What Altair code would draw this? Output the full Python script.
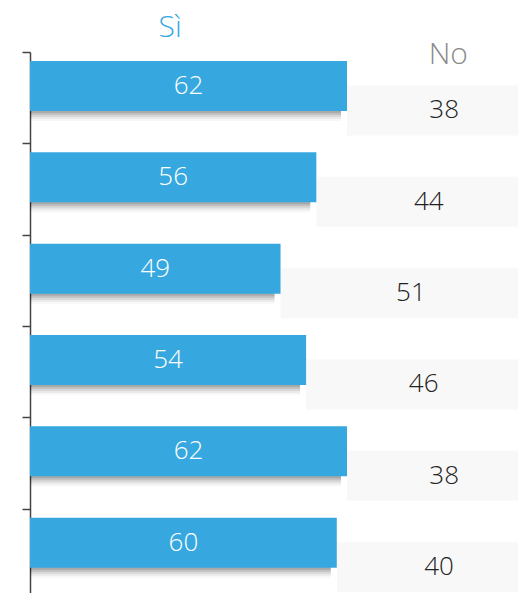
import altair as alt
import pandas as pd

rows = ["1", "2", "3", "4", "5", "6"]
si = [62, 56, 49, 54, 62, 60]
no = [38, 44, 51, 46, 38, 40]
headers = ["Sì", "No"]
header_x = [27.4, 81.8]

df = pd.DataFrame({"row": rows, "si": si, "no": no})
df["zero"] = 0
df["total"] = df["si"] + df["no"]
df["si_mid"] = df["si"] / 2
df["no_mid"] = df["si"] + df["no"] / 2

BLUE = "#37A8DF"
FONT = "Open Sans"

xscale = alt.Scale(domain=[0, 95.44], nice=False, zero=True)
yenc = alt.Y(
    "row:N", sort=rows, title=None,
    scale=alt.Scale(paddingInner=0, paddingOuter=0, range=[0, 548]),
    axis=alt.Axis(labels=False, tickBand="extent", tickSize=8, domainColor="#444",
                  tickColor="#444", domainWidth=1.5, tickWidth=1.5, grid=False),
)

base = alt.Chart(df)

shadows = [
    base.mark_bar(height=50, yOffset=-11.7 + off, x2Offset=-6, color="#000", opacity=op).encode(
        x=alt.X("zero:Q", scale=xscale, axis=None), x2="si:Q", y=yenc
    )
    for off, op in [(2, 0.12), (4, 0.10), (6, 0.08), (8, 0.05), (10, 0.03)]
]

no_bar = base.mark_bar(height=50, yOffset=12.8, color="#F8F8F8", clip=True).encode(
    x=alt.X("si:Q", scale=xscale, axis=None), x2="total:Q", y=yenc
)
si_bar = base.mark_bar(height=50, yOffset=-11.7, color=BLUE).encode(
    x=alt.X("zero:Q", scale=xscale, axis=None), x2="si:Q", y=yenc
)
si_text = base.mark_text(yOffset=-11.7, color="white", font=FONT, fontSize=26, fontWeight=300).encode(
    x=alt.X("si_mid:Q", scale=xscale, axis=None), y=yenc, text="si:Q"
)
no_text = base.mark_text(yOffset=12.8, color="#222", font=FONT, fontSize=26, fontWeight=300).encode(
    x=alt.X("no_mid:Q", scale=xscale, axis=None), y=yenc, text="no:Q"
)

hdf = pd.DataFrame({"label": headers, "hx": header_x, "hy": [-24, 3],
                    "col": [BLUE, "#8A8A8A"]})
head = alt.Chart(hdf).mark_text(font=FONT, fontSize=30, fontWeight=300, baseline="middle").encode(
    x=alt.X("hx:Q", scale=xscale, axis=None),
    y=alt.Y("hy:Q", scale=None),
    text="label:N",
    color=alt.Color("col:N", scale=None),
)

chart = alt.layer(*shadows, no_bar, si_bar, si_text, no_text, head).properties(
    width=488, height=541,
    autosize=alt.AutoSizeParams(type="none"),
    padding={"left": 22, "top": 44, "right": 0, "bottom": 0},
).configure_view(stroke=None)

chart.save("out.html", embed_options={"renderer": "svg", "actions": False})
